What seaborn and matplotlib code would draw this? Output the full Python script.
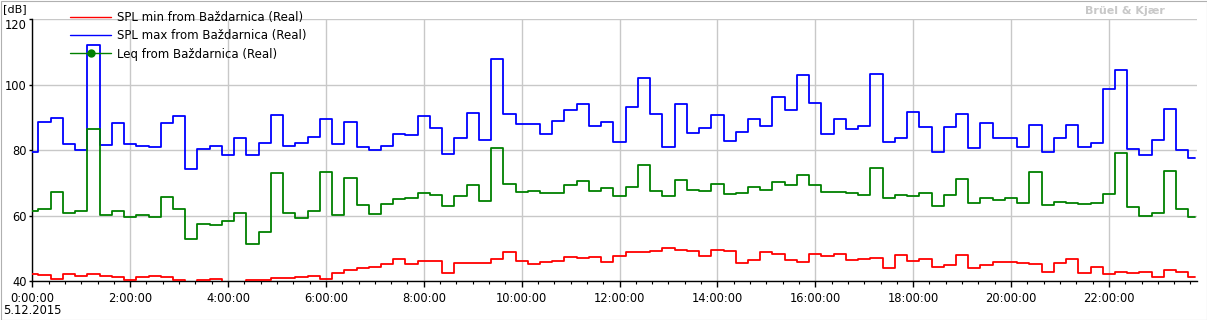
import numpy as np
import pandas as pd
import matplotlib
matplotlib.use("Agg")
import matplotlib.pyplot as plt
import seaborn as sns
from matplotlib.legend_handler import HandlerLine2D
from matplotlib.lines import Line2D
from matplotlib.ticker import MultipleLocator, FuncFormatter
from matplotlib.patches import Rectangle

# 15-minute intervals, 5.12.2015 (hours since midnight)
hours = np.arange(96) * 0.25

spl_max = [79.5, 88.7, 89.8, 82.0, 80.0, 112.1, 81.6, 88.2, 82.0, 81.4,
           81.0, 88.3, 90.4, 74.2, 80.4, 81.2, 78.4, 83.6, 78.4, 82.3,
           90.7, 81.2, 82.3, 84.1, 89.4, 82.0, 88.7, 81.0, 80.1, 81.2,
           85.0, 84.6, 90.5, 86.8, 78.9, 83.6, 91.3, 83.2, 107.9, 91.1,
           88.0, 88.0, 85.0, 89.0, 92.3, 94.0, 87.4, 88.7, 82.6, 93.2,
           102.1, 91.1, 81.0, 94.1, 85.3, 86.6, 90.8, 82.9, 85.6, 89.4,
           87.4, 96.3, 92.1, 103.0, 94.5, 85.0, 89.4, 86.3, 87.4, 103.3,
           82.6, 83.6, 91.7, 87.1, 79.5, 87.1, 91.1, 80.5, 88.3, 83.8,
           83.8, 80.8, 87.7, 79.5, 83.8, 87.7, 81.0, 82.3, 98.7, 104.5,
           80.4, 78.6, 83.2, 92.6, 80.1, 77.5]

leq = [61.4, 62.0, 67.2, 60.9, 61.5, 86.3, 60.1, 61.4, 59.7, 60.2,
       59.7, 65.7, 62.0, 52.9, 57.5, 57.2, 58.5, 60.9, 51.4, 55.0,
       73.0, 60.9, 59.4, 61.5, 73.3, 60.2, 71.5, 63.4, 60.5, 63.7,
       65.1, 65.4, 67.0, 66.3, 63.0, 66.1, 69.5, 64.5, 80.6, 69.8,
       67.2, 67.5, 66.9, 66.9, 69.5, 70.6, 67.5, 68.4, 66.0, 68.7,
       75.5, 67.5, 66.0, 70.9, 67.8, 67.5, 69.7, 66.7, 66.9, 68.7,
       67.8, 70.3, 69.4, 72.4, 69.4, 67.2, 67.2, 66.9, 66.3, 74.5,
       65.4, 66.3, 66.0, 66.9, 63.0, 66.3, 71.2, 63.9, 65.4, 64.8,
       65.4, 63.9, 73.3, 63.3, 64.3, 63.9, 63.6, 63.9, 66.6, 79.1,
       62.7, 59.9, 60.8, 73.6, 62.0, 59.6]

spl_min = [42.1, 41.8, 40.6, 42.1, 41.5, 42.1, 41.5, 41.2, 40.3, 41.2,
           41.5, 41.2, 40.3, 39.7, 40.3, 40.6, 39.7, 39.7, 40.3, 40.3,
           40.9, 41.1, 41.4, 41.7, 40.6, 42.5, 43.4, 44.1, 44.4, 45.3,
           46.8, 45.2, 46.2, 46.2, 42.5, 45.5, 45.5, 45.5, 46.8, 48.8,
           46.1, 45.2, 45.9, 46.2, 47.3, 47.0, 47.3, 45.8, 47.6, 48.8,
           48.8, 49.2, 50.1, 49.5, 49.1, 47.6, 49.5, 49.1, 45.5, 46.5,
           48.8, 48.2, 46.5, 45.8, 48.2, 47.6, 48.2, 46.5, 46.8, 47.1,
           44.1, 47.9, 46.1, 46.7, 44.3, 44.9, 47.9, 44.1, 44.9, 45.8,
           45.8, 45.5, 45.2, 42.7, 45.5, 46.7, 42.4, 44.3, 42.1, 42.7,
           42.4, 42.7, 41.2, 43.4, 42.7, 41.2]

y_ticks = [40, 60, 80, 100, 120]

labels = ["SPL min from Baždarnica (Real)",
          "SPL max from Baždarnica (Real)",
          "Leq from Baždarnica (Real)"]
colors = ["#ff0000", "#0000ff", "#008000"]

sns.set_style("white")
plt.rcParams['font.family'] = ['DejaVu Sans']
plt.rcParams['text.color'] = 'black'
plt.rcParams['xtick.color'] = 'black'
plt.rcParams['ytick.color'] = 'black'

W, H = 1207, 320
fig = plt.figure(figsize=(W / 100, H / 100), dpi=100)
ax = fig.add_axes([32.3 / W, 1 - 281.3 / H, (1197 - 32.3) / W, (281.3 - 18.9) / H])

df = pd.DataFrame({"t": hours, "min": spl_min, "max": spl_max, "leq": leq})
for col, c in zip(["min", "max", "leq"], colors):
    sns.lineplot(data=df, x="t", y=col, ax=ax, color=c, lw=1.3,
                 drawstyle="steps-mid", estimator=None, zorder=3)

ax.set_xlim(0, 23.8)
ax.set_ylim(40, 120)
ax.set_xlabel("")
ax.set_ylabel("")

ax.xaxis.set_major_locator(MultipleLocator(2))
ax.xaxis.set_minor_locator(MultipleLocator(1 / 3))
ax.xaxis.set_major_formatter(FuncFormatter(lambda v, p: f"{int(round(v))}:00:00"))
ax.set_yticks(y_ticks)

ax.grid(True, which="major", color="#c8c8c8", lw=1.0, zorder=0)
ax.tick_params(axis="x", which="major", direction="out", length=4, width=1,
               color="black", labelcolor="black", labelsize=8.3, pad=4, bottom=True)
ax.tick_params(axis="x", which="minor", direction="out", length=2.5, width=0.8,
               color="black", bottom=True)
ax.tick_params(axis="y", which="major", direction="out", length=2, width=1,
               color="black", labelcolor="black", labelsize=8.3, pad=2, left=True)
for s in ["top", "right"]:
    ax.spines[s].set_visible(False)
for s in ["left", "bottom"]:
    ax.spines[s].set_color("black")
    ax.spines[s].set_linewidth(1.0)

# top y label sits just below the axis top, as in the reference
ax.yaxis.get_major_ticks()[-1].label1.set_verticalalignment("top")


class LeftMarker(HandlerLine2D):
    def get_xdata(self, legend, xdescent, ydescent, width, height, fontsize):
        return [-xdescent, -xdescent + width], [-xdescent]


h_min = Line2D([], [], color=colors[0], lw=1.0)
h_max = Line2D([], [], color=colors[1], lw=1.0)
h_leq = Line2D([], [], color=colors[2], lw=1.0, marker="o", ms=5)
leg = fig.legend([h_min, h_max, h_leq], labels, loc="upper left",
                 bbox_to_anchor=(70 / W, 1 - 11 / H), frameon=False,
                 fontsize=8.5, handlelength=3.5, handletextpad=0.5,
                 labelspacing=0.45, borderpad=0, borderaxespad=0,
                 handler_map={h_leq: LeftMarker()})
for t in leg.get_texts():
    t.set_color("black")

fig.text(3 / W, 1 - 9 / H, "[dB]", fontsize=8.0, va="center", ha="left")
fig.text(3 / W, 1 - 311 / H, "5.12.2015", fontsize=8.3, va="center", ha="left")
fig.text(1165 / W, 1 - 11 / H, "Brüel & Kjær", fontsize=8, fontweight="bold",
         color="#c8c8c8", va="center", ha="right")

fig.patches.append(Rectangle((0.5 / W, 0.5 / H), (W - 1) / W, (H - 1) / H,
                             transform=fig.transFigure, fill=False,
                             edgecolor="#b0b0b0", lw=0.8))

fig.savefig("out.png", dpi=100)
